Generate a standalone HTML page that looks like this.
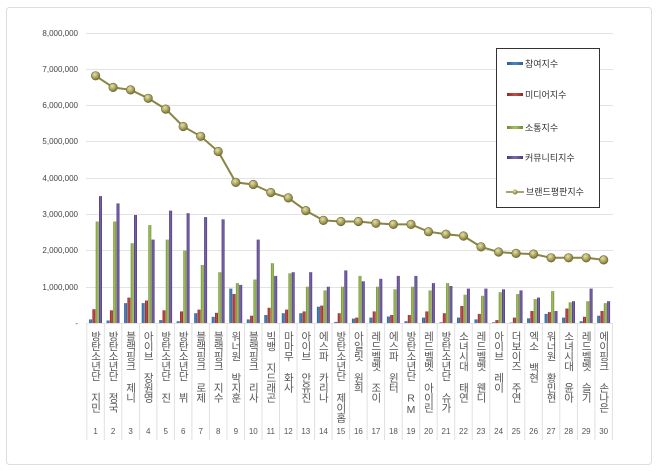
<!DOCTYPE html>
<html><head><meta charset="utf-8"><style>
body{margin:0;background:#fff;}
#w{position:relative;width:658px;height:472px;overflow:hidden;background:#fff;font-family:"Liberation Sans","Noto Sans CJK KR",sans-serif;}
.l{position:absolute;top:331px;width:14px;margin-left:-7px;writing-mode:vertical-rl;text-orientation:upright;font-size:10.5px;line-height:14px;color:#555;letter-spacing:-0.5px;white-space:nowrap;}
</style></head><body><div id="w">
<svg width="658" height="472" style="position:absolute;left:0;top:0">
<defs>
<linearGradient id="gb" x1="0" x2="1"><stop offset="0" stop-color="#2c5d8f"/><stop offset="0.5" stop-color="#4f86c0"/><stop offset="1" stop-color="#2c5d8f"/></linearGradient>
<linearGradient id="gr" x1="0" x2="1"><stop offset="0" stop-color="#8c2a28"/><stop offset="0.5" stop-color="#c44e4a"/><stop offset="1" stop-color="#8c2a28"/></linearGradient>
<linearGradient id="gg" x1="0" x2="1"><stop offset="0" stop-color="#6f8a35"/><stop offset="0.5" stop-color="#a3c45e"/><stop offset="1" stop-color="#6f8a35"/></linearGradient>
<linearGradient id="gp" x1="0" x2="1"><stop offset="0" stop-color="#4b3a78"/><stop offset="0.5" stop-color="#7e68ae"/><stop offset="1" stop-color="#4b3a78"/></linearGradient>
<radialGradient id="mk" cx="0.4" cy="0.35" r="0.7"><stop offset="0" stop-color="#e6e2a8"/><stop offset="0.6" stop-color="#a29c58"/><stop offset="1" stop-color="#6d6834"/></radialGradient>
</defs>
<rect x="6.5" y="7.5" width="645" height="457" rx="3" fill="#fff" stroke="#ddd"/>
<g stroke="#e3e3e3" stroke-width="1">
<line x1="86" y1="33.5" x2="613" y2="33.5"/><line x1="86" y1="69.5" x2="613" y2="69.5"/><line x1="86" y1="105.5" x2="613" y2="105.5"/><line x1="86" y1="141.5" x2="613" y2="141.5"/><line x1="86" y1="178.5" x2="613" y2="178.5"/><line x1="86" y1="214.5" x2="613" y2="214.5"/><line x1="86" y1="250.5" x2="613" y2="250.5"/><line x1="86" y1="287.5" x2="613" y2="287.5"/><line x1="86" y1="323.5" x2="613" y2="323.5"/>
</g>
<g font-size="8" fill="#444" text-anchor="end" font-family="Liberation Sans,sans-serif">
<text x="78" y="36">8,000,000</text><text x="78" y="72">7,000,000</text><text x="78" y="108">6,000,000</text><text x="78" y="144">5,000,000</text><text x="78" y="181">4,000,000</text><text x="78" y="217">3,000,000</text><text x="78" y="253">2,000,000</text><text x="78" y="290">1,000,000</text><text x="78" y="326">-</text>
</g>
<g stroke="#e0e0e0">
<line x1="86.8" y1="324" x2="86.8" y2="440"/><line x1="104.3" y1="324" x2="104.3" y2="440"/><line x1="121.8" y1="324" x2="121.8" y2="440"/><line x1="139.4" y1="324" x2="139.4" y2="440"/><line x1="156.9" y1="324" x2="156.9" y2="440"/><line x1="174.4" y1="324" x2="174.4" y2="440"/><line x1="191.9" y1="324" x2="191.9" y2="440"/><line x1="209.4" y1="324" x2="209.4" y2="440"/><line x1="227" y1="324" x2="227" y2="440"/><line x1="244.5" y1="324" x2="244.5" y2="440"/><line x1="262" y1="324" x2="262" y2="440"/><line x1="279.5" y1="324" x2="279.5" y2="440"/><line x1="297" y1="324" x2="297" y2="440"/><line x1="314.6" y1="324" x2="314.6" y2="440"/><line x1="332.1" y1="324" x2="332.1" y2="440"/><line x1="349.6" y1="324" x2="349.6" y2="440"/><line x1="367.1" y1="324" x2="367.1" y2="440"/><line x1="384.6" y1="324" x2="384.6" y2="440"/><line x1="402.2" y1="324" x2="402.2" y2="440"/><line x1="419.7" y1="324" x2="419.7" y2="440"/><line x1="437.2" y1="324" x2="437.2" y2="440"/><line x1="454.7" y1="324" x2="454.7" y2="440"/><line x1="472.2" y1="324" x2="472.2" y2="440"/><line x1="489.8" y1="324" x2="489.8" y2="440"/><line x1="507.3" y1="324" x2="507.3" y2="440"/><line x1="524.8" y1="324" x2="524.8" y2="440"/><line x1="542.3" y1="324" x2="542.3" y2="440"/><line x1="559.8" y1="324" x2="559.8" y2="440"/><line x1="577.4" y1="324" x2="577.4" y2="440"/><line x1="594.9" y1="324" x2="594.9" y2="440"/><line x1="612.4" y1="324" x2="612.4" y2="440"/>
</g>
<g>
<g transform="translate(95.6,323) scale(1,-1)"><rect x="-6.5" width="3" height="3.6" fill="url(#gb)"/><rect x="-3.2" width="3" height="13.8" fill="url(#gr)"/><rect x="0.1" width="3" height="101.5" fill="url(#gg)"/><rect x="3.4" width="3" height="126.9" fill="url(#gp)"/></g>
<g transform="translate(113.1,323) scale(1,-1)"><rect x="-6.5" width="3" height="2.5" fill="url(#gb)"/><rect x="-3.2" width="3" height="12.7" fill="url(#gr)"/><rect x="0.1" width="3" height="101.5" fill="url(#gg)"/><rect x="3.4" width="3" height="119.6" fill="url(#gp)"/></g>
<g transform="translate(130.6,323) scale(1,-1)"><rect x="-6.5" width="3" height="19.9" fill="url(#gb)"/><rect x="-3.2" width="3" height="25.4" fill="url(#gr)"/><rect x="0.1" width="3" height="79.8" fill="url(#gg)"/><rect x="3.4" width="3" height="108" fill="url(#gp)"/></g>
<g transform="translate(148.2,323) scale(1,-1)"><rect x="-6.5" width="3" height="19.9" fill="url(#gb)"/><rect x="-3.2" width="3" height="22.5" fill="url(#gr)"/><rect x="0.1" width="3" height="97.9" fill="url(#gg)"/><rect x="3.4" width="3" height="83.4" fill="url(#gp)"/></g>
<g transform="translate(165.7,323) scale(1,-1)"><rect x="-6.5" width="3" height="2.9" fill="url(#gb)"/><rect x="-3.2" width="3" height="12.7" fill="url(#gr)"/><rect x="0.1" width="3" height="83.4" fill="url(#gg)"/><rect x="3.4" width="3" height="112.4" fill="url(#gp)"/></g>
<g transform="translate(183.2,323) scale(1,-1)"><rect x="-6.5" width="3" height="1.8" fill="url(#gb)"/><rect x="-3.2" width="3" height="11.6" fill="url(#gr)"/><rect x="0.1" width="3" height="72.5" fill="url(#gg)"/><rect x="3.4" width="3" height="109.8" fill="url(#gp)"/></g>
<g transform="translate(200.7,323) scale(1,-1)"><rect x="-6.5" width="3" height="9.8" fill="url(#gb)"/><rect x="-3.2" width="3" height="13.4" fill="url(#gr)"/><rect x="0.1" width="3" height="58" fill="url(#gg)"/><rect x="3.4" width="3" height="105.9" fill="url(#gp)"/></g>
<g transform="translate(218.2,323) scale(1,-1)"><rect x="-6.5" width="3" height="6.2" fill="url(#gb)"/><rect x="-3.2" width="3" height="10.2" fill="url(#gr)"/><rect x="0.1" width="3" height="50.8" fill="url(#gg)"/><rect x="3.4" width="3" height="103.7" fill="url(#gp)"/></g>
<g transform="translate(235.8,323) scale(1,-1)"><rect x="-6.5" width="3" height="34.4" fill="url(#gb)"/><rect x="-3.2" width="3" height="29" fill="url(#gr)"/><rect x="0.1" width="3" height="39.9" fill="url(#gg)"/><rect x="3.4" width="3" height="38.1" fill="url(#gp)"/></g>
<g transform="translate(253.3,323) scale(1,-1)"><rect x="-6.5" width="3" height="3.6" fill="url(#gb)"/><rect x="-3.2" width="3" height="7.3" fill="url(#gr)"/><rect x="0.1" width="3" height="43.5" fill="url(#gg)"/><rect x="3.4" width="3" height="83.4" fill="url(#gp)"/></g>
<g transform="translate(270.8,323) scale(1,-1)"><rect x="-6.5" width="3" height="8" fill="url(#gb)"/><rect x="-3.2" width="3" height="15.2" fill="url(#gr)"/><rect x="0.1" width="3" height="59.8" fill="url(#gg)"/><rect x="3.4" width="3" height="47.1" fill="url(#gp)"/></g>
<g transform="translate(288.3,323) scale(1,-1)"><rect x="-6.5" width="3" height="9.8" fill="url(#gb)"/><rect x="-3.2" width="3" height="13.4" fill="url(#gr)"/><rect x="0.1" width="3" height="49.7" fill="url(#gg)"/><rect x="3.4" width="3" height="50.8" fill="url(#gp)"/></g>
<g transform="translate(305.8,323) scale(1,-1)"><rect x="-6.5" width="3" height="9.8" fill="url(#gb)"/><rect x="-3.2" width="3" height="11.6" fill="url(#gr)"/><rect x="0.1" width="3" height="36.3" fill="url(#gg)"/><rect x="3.4" width="3" height="50.8" fill="url(#gp)"/></g>
<g transform="translate(323.4,323) scale(1,-1)"><rect x="-6.5" width="3" height="16.3" fill="url(#gb)"/><rect x="-3.2" width="3" height="17.4" fill="url(#gr)"/><rect x="0.1" width="3" height="32.6" fill="url(#gg)"/><rect x="3.4" width="3" height="36.3" fill="url(#gp)"/></g>
<g transform="translate(340.9,323) scale(1,-1)"><rect x="-6.5" width="3" height="1.1" fill="url(#gb)"/><rect x="-3.2" width="3" height="9.8" fill="url(#gr)"/><rect x="0.1" width="3" height="36.3" fill="url(#gg)"/><rect x="3.4" width="3" height="52.6" fill="url(#gp)"/></g>
<g transform="translate(358.4,323) scale(1,-1)"><rect x="-6.5" width="3" height="4.4" fill="url(#gb)"/><rect x="-3.2" width="3" height="5.4" fill="url(#gr)"/><rect x="0.1" width="3" height="47.1" fill="url(#gg)"/><rect x="3.4" width="3" height="41.7" fill="url(#gp)"/></g>
<g transform="translate(375.9,323) scale(1,-1)"><rect x="-6.5" width="3" height="5.4" fill="url(#gb)"/><rect x="-3.2" width="3" height="11.6" fill="url(#gr)"/><rect x="0.1" width="3" height="36.3" fill="url(#gg)"/><rect x="3.4" width="3" height="44.2" fill="url(#gp)"/></g>
<g transform="translate(393.4,323) scale(1,-1)"><rect x="-6.5" width="3" height="6.5" fill="url(#gb)"/><rect x="-3.2" width="3" height="8" fill="url(#gr)"/><rect x="0.1" width="3" height="33.7" fill="url(#gg)"/><rect x="3.4" width="3" height="47.1" fill="url(#gp)"/></g>
<g transform="translate(411,323) scale(1,-1)"><rect x="-6.5" width="3" height="1.8" fill="url(#gb)"/><rect x="-3.2" width="3" height="8" fill="url(#gr)"/><rect x="0.1" width="3" height="36.3" fill="url(#gg)"/><rect x="3.4" width="3" height="47.1" fill="url(#gp)"/></g>
<g transform="translate(428.5,323) scale(1,-1)"><rect x="-6.5" width="3" height="5.4" fill="url(#gb)"/><rect x="-3.2" width="3" height="11.6" fill="url(#gr)"/><rect x="0.1" width="3" height="32.6" fill="url(#gg)"/><rect x="3.4" width="3" height="39.9" fill="url(#gp)"/></g>
<g transform="translate(446,323) scale(1,-1)"><rect x="-6.5" width="3" height="0.7" fill="url(#gb)"/><rect x="-3.2" width="3" height="9.8" fill="url(#gr)"/><rect x="0.1" width="3" height="39.9" fill="url(#gg)"/><rect x="3.4" width="3" height="37" fill="url(#gp)"/></g>
<g transform="translate(463.5,323) scale(1,-1)"><rect x="-6.5" width="3" height="5.4" fill="url(#gb)"/><rect x="-3.2" width="3" height="17" fill="url(#gr)"/><rect x="0.1" width="3" height="28.3" fill="url(#gg)"/><rect x="3.4" width="3" height="34.4" fill="url(#gp)"/></g>
<g transform="translate(481,323) scale(1,-1)"><rect x="-6.5" width="3" height="3.6" fill="url(#gb)"/><rect x="-3.2" width="3" height="9.1" fill="url(#gr)"/><rect x="0.1" width="3" height="27.2" fill="url(#gg)"/><rect x="3.4" width="3" height="34.4" fill="url(#gp)"/></g>
<g transform="translate(498.6,323) scale(1,-1)"><rect x="-6.5" width="3" height="0.7" fill="url(#gb)"/><rect x="-3.2" width="3" height="2.9" fill="url(#gr)"/><rect x="0.1" width="3" height="30.8" fill="url(#gg)"/><rect x="3.4" width="3" height="33.7" fill="url(#gp)"/></g>
<g transform="translate(516.1,323) scale(1,-1)"><rect x="-6.5" width="3" height="0.4" fill="url(#gb)"/><rect x="-3.2" width="3" height="5.4" fill="url(#gr)"/><rect x="0.1" width="3" height="29" fill="url(#gg)"/><rect x="3.4" width="3" height="32.6" fill="url(#gp)"/></g>
<g transform="translate(533.6,323) scale(1,-1)"><rect x="-6.5" width="3" height="4.7" fill="url(#gb)"/><rect x="-3.2" width="3" height="12" fill="url(#gr)"/><rect x="0.1" width="3" height="23.9" fill="url(#gg)"/><rect x="3.4" width="3" height="25.4" fill="url(#gp)"/></g>
<g transform="translate(551.1,323) scale(1,-1)"><rect x="-6.5" width="3" height="9.1" fill="url(#gb)"/><rect x="-3.2" width="3" height="10.9" fill="url(#gr)"/><rect x="0.1" width="3" height="31.9" fill="url(#gg)"/><rect x="3.4" width="3" height="12" fill="url(#gp)"/></g>
<g transform="translate(568.6,323) scale(1,-1)"><rect x="-6.5" width="3" height="5.4" fill="url(#gb)"/><rect x="-3.2" width="3" height="14.5" fill="url(#gr)"/><rect x="0.1" width="3" height="20.7" fill="url(#gg)"/><rect x="3.4" width="3" height="21.8" fill="url(#gp)"/></g>
<g transform="translate(586.2,323) scale(1,-1)"><rect x="-6.5" width="3" height="1.8" fill="url(#gb)"/><rect x="-3.2" width="3" height="6.2" fill="url(#gr)"/><rect x="0.1" width="3" height="21.8" fill="url(#gg)"/><rect x="3.4" width="3" height="34.4" fill="url(#gp)"/></g>
<g transform="translate(603.7,323) scale(1,-1)"><rect x="-6.5" width="3" height="7.3" fill="url(#gb)"/><rect x="-3.2" width="3" height="12" fill="url(#gr)"/><rect x="0.1" width="3" height="19.9" fill="url(#gg)"/><rect x="3.4" width="3" height="21.8" fill="url(#gp)"/></g>
</g>
<polyline fill="none" stroke="#8a8542" stroke-width="2" points="95.6,75.8 113.1,87.4 130.6,89.9 148.2,98.3 165.7,109.1 183.2,126.5 200.7,136.3 218.2,151.5 235.8,182.4 253.3,184.5 270.8,192.5 288.3,197.9 305.8,210.6 323.4,220.4 340.9,221.5 358.4,221.5 375.9,223.3 393.4,224.4 411,224.4 428.5,231.7 446,234.2 463.5,236 481,246.9 498.6,252 516.1,253.4 533.6,254.1 551.1,257.8 568.6,257.8 586.2,257.8 603.7,259.9"/>
<g fill="url(#mk)" stroke="#6d6834" stroke-width="0.6">
<circle cx="95.6" cy="75.8" r="4.3"/><circle cx="113.1" cy="87.4" r="4.3"/><circle cx="130.6" cy="89.9" r="4.3"/><circle cx="148.2" cy="98.3" r="4.3"/><circle cx="165.7" cy="109.1" r="4.3"/><circle cx="183.2" cy="126.5" r="4.3"/><circle cx="200.7" cy="136.3" r="4.3"/><circle cx="218.2" cy="151.5" r="4.3"/><circle cx="235.8" cy="182.4" r="4.3"/><circle cx="253.3" cy="184.5" r="4.3"/><circle cx="270.8" cy="192.5" r="4.3"/><circle cx="288.3" cy="197.9" r="4.3"/><circle cx="305.8" cy="210.6" r="4.3"/><circle cx="323.4" cy="220.4" r="4.3"/><circle cx="340.9" cy="221.5" r="4.3"/><circle cx="358.4" cy="221.5" r="4.3"/><circle cx="375.9" cy="223.3" r="4.3"/><circle cx="393.4" cy="224.4" r="4.3"/><circle cx="411" cy="224.4" r="4.3"/><circle cx="428.5" cy="231.7" r="4.3"/><circle cx="446" cy="234.2" r="4.3"/><circle cx="463.5" cy="236" r="4.3"/><circle cx="481" cy="246.9" r="4.3"/><circle cx="498.6" cy="252" r="4.3"/><circle cx="516.1" cy="253.4" r="4.3"/><circle cx="533.6" cy="254.1" r="4.3"/><circle cx="551.1" cy="257.8" r="4.3"/><circle cx="568.6" cy="257.8" r="4.3"/><circle cx="586.2" cy="257.8" r="4.3"/><circle cx="603.7" cy="259.9" r="4.3"/>
</g>
<rect x="496.5" y="48.5" width="103" height="159" fill="#fff" stroke="#333"/>
<rect x="507" y="62" width="16" height="3" fill="url(#gb)"/>
<rect x="507" y="93" width="16" height="3" fill="url(#gr)"/>
<rect x="507" y="126" width="16" height="3" fill="url(#gg)"/>
<rect x="507" y="156" width="16" height="3" fill="url(#gp)"/>
<line x1="506" y1="192" x2="524" y2="192" stroke="#8a8542" stroke-width="1.5"/><circle cx="515" cy="192" r="2.5" fill="url(#mk)"/>
<g font-size="9" fill="#333" font-family="Liberation Sans,Noto Sans CJK KR,sans-serif">
<text x="525" y="67">참여지수</text><text x="525" y="98">미디어지수</text><text x="525" y="131">소통지수</text><text x="525" y="161">커뮤니티지수</text><text x="526" y="195">브랜드평판지수</text>
</g>
<g font-size="8" fill="#555" text-anchor="middle" font-family="Liberation Sans,sans-serif">
<text x="95.6" y="434">1</text><text x="113.1" y="434">2</text><text x="130.6" y="434">3</text><text x="148.2" y="434">4</text><text x="165.7" y="434">5</text><text x="183.2" y="434">6</text><text x="200.7" y="434">7</text><text x="218.2" y="434">8</text><text x="235.8" y="434">9</text><text x="253.3" y="434">10</text><text x="270.8" y="434">11</text><text x="288.3" y="434">12</text><text x="305.8" y="434">13</text><text x="323.4" y="434">14</text><text x="340.9" y="434">15</text><text x="358.4" y="434">16</text><text x="375.9" y="434">17</text><text x="393.4" y="434">18</text><text x="411" y="434">19</text><text x="428.5" y="434">20</text><text x="446" y="434">21</text><text x="463.5" y="434">22</text><text x="481" y="434">23</text><text x="498.6" y="434">24</text><text x="516.1" y="434">25</text><text x="533.6" y="434">26</text><text x="551.1" y="434">27</text><text x="568.6" y="434">28</text><text x="586.2" y="434">29</text><text x="603.7" y="434">30</text>
</g>
</svg>
<div class="l" style="left:95.6px">방탄소년단 지민</div>
<div class="l" style="left:113.1px">방탄소년단 정국</div>
<div class="l" style="left:130.6px">블랙핑크 제니</div>
<div class="l" style="left:148.2px">아이브 장원영</div>
<div class="l" style="left:165.7px">방탄소년단 진</div>
<div class="l" style="left:183.2px">방탄소년단 뷔</div>
<div class="l" style="left:200.7px">블랙핑크 로제</div>
<div class="l" style="left:218.2px">블랙핑크 지수</div>
<div class="l" style="left:235.8px">워너원 박지훈</div>
<div class="l" style="left:253.3px">블랙핑크 리사</div>
<div class="l" style="left:270.8px">빅뱅 지드래곤</div>
<div class="l" style="left:288.3px">마마무 화사</div>
<div class="l" style="left:305.8px">아이브 안유진</div>
<div class="l" style="left:323.4px">에스파 카리나</div>
<div class="l" style="left:340.9px">방탄소년단 제이홉</div>
<div class="l" style="left:358.4px">아일릿 원희</div>
<div class="l" style="left:375.9px">레드벨벳 조이</div>
<div class="l" style="left:393.4px">에스파 윈터</div>
<div class="l" style="left:411px">방탄소년단 RM</div>
<div class="l" style="left:428.5px">레드벨벳 아이린</div>
<div class="l" style="left:446px">방탄소년단 슈가</div>
<div class="l" style="left:463.5px">소녀시대 태연</div>
<div class="l" style="left:481px">레드벨벳 웬디</div>
<div class="l" style="left:498.6px">아이브 레이</div>
<div class="l" style="left:516.1px">더보이즈 주연</div>
<div class="l" style="left:533.6px">엑소 백현</div>
<div class="l" style="left:551.1px">워너원 황민현</div>
<div class="l" style="left:568.6px">소녀시대 윤아</div>
<div class="l" style="left:586.2px">레드벨벳 슬기</div>
<div class="l" style="left:603.7px">에이핑크 손나은</div>
</div></body></html>
